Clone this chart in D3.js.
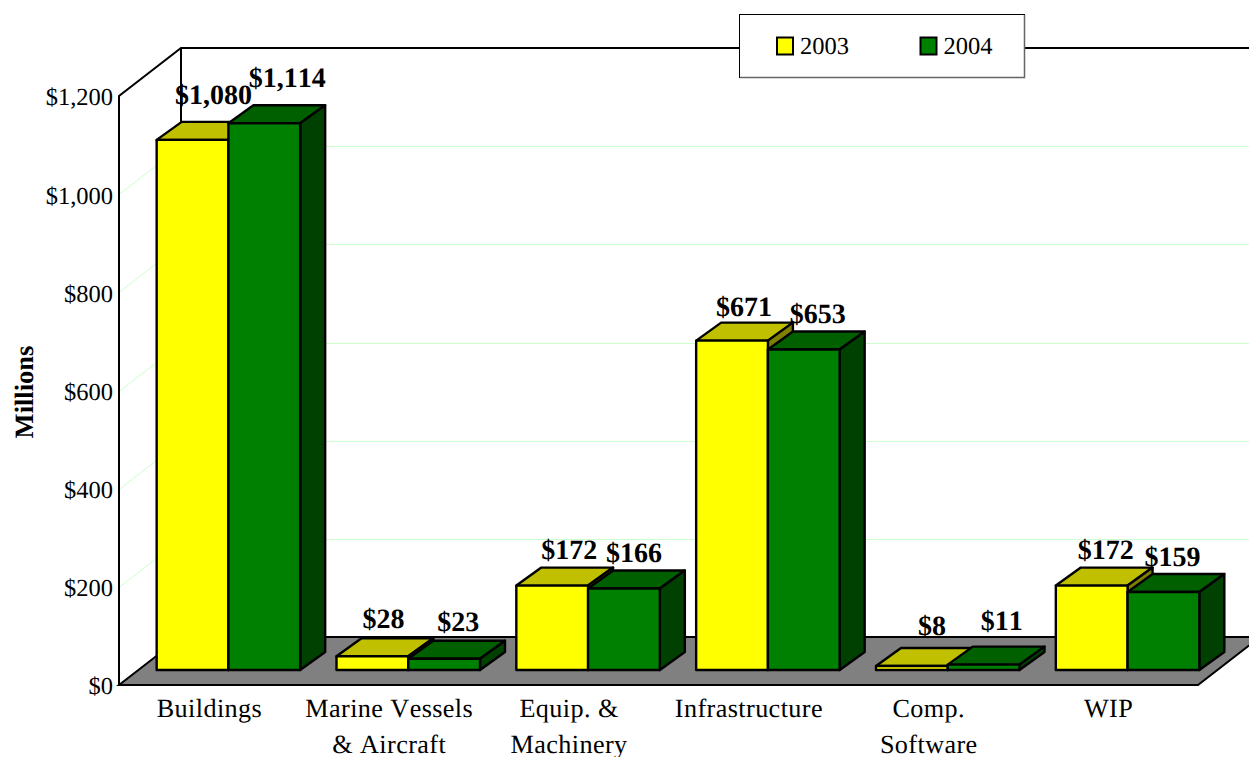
<!DOCTYPE html>
<html>
<head>
<meta charset="utf-8">
<script src="https://cdn.jsdelivr.net/npm/d3@7/dist/d3.min.js"></script>
<style>
  html, body { margin: 0; padding: 0; background: #fff; overflow: hidden; }
  svg { display: block; }
  text { font-family: "Liberation Serif", serif; fill: #000; font-kerning: none; text-rendering: geometricPrecision; }
</style>
</head>
<body>
<svg id="chart" width="1249" height="757"></svg>
<script>
// Net book value by asset class, in millions of dollars
const categories = ["Buildings", "Marine Vessels\n& Aircraft", "Equip. &\nMachinery", "Infrastructure", "Comp.\nSoftware", "WIP"];
const years = ["2003", "2004"];
const values2003 = [1080, 28, 172, 671, 8, 172];
const values2004 = [1114, 23, 166, 653, 11, 159];
const yTicks = [0, 200, 400, 600, 800, 1000, 1200];

// Hand placement of the value labels so neighbours do not collide: [dx, dy]
const labelNudge2003 = [[21, -18], [11, -10], [17, -9], [12, -7], [20, -13], [14, -9]];
const labelNudge2004 = [[23, -18], [14, -10], [10, -9], [14, -8], [18, -17], [9, -8]];

const svg = d3.select("#chart");

// Oblique projection: the floor recedes from the front wall to the back wall
const frontLeft = 119, frontRight = 1198, frontBase = 685, frontTop = 96;
const depthX = 62, depthY = -48;       // full depth of the plot box
const barDepthX = 25, barDepthY = -18; // depth of a single bar
const barInsetX = 19.5, barInsetY = -15; // bars stand this far back from the front edge

const y = d3.scaleLinear().domain([0, 1200]).range([frontBase, frontTop]);
const x = d3.scaleBand().domain(categories).range([frontLeft, frontRight]);
const inner = d3.scaleBand().domain(years).range([0, 143.5]);

const colours = {
  "2003": { front: "#ffff00", top: "#c0c000", side: "#808000" },
  "2004": { front: "#008000", top: "#006000", side: "#004000" }
};

const poly = pts => pts.map(p => p.join(",")).join(" ");
const backLeft = frontLeft + depthX;
const pageRight = 1260;

// Gridlines across the side wall and the back wall
const grid = svg.append("g").attr("fill", "none").attr("stroke", "#ccffcc").attr("stroke-width", 1);
yTicks.filter(d => d > 0 && d < 1200).forEach(d => {
  const yFront = Math.round(y(d)) + 0.5;
  grid.append("polyline").attr("points", poly([
    [frontLeft, yFront], [backLeft, yFront + depthY], [pageRight, yFront + depthY]
  ]));
});

// Floor
svg.append("polygon")
  .attr("points", poly([
    [frontLeft, frontBase], [backLeft, frontBase + depthY],
    [frontRight + depthX, frontBase + depthY], [frontRight, frontBase]
  ]))
  .attr("fill", "#808080").attr("stroke", "#000").attr("stroke-width", 2);

// Wall outline
svg.append("polyline")
  .attr("points", poly([
    [frontLeft, frontBase], [frontLeft, frontTop], [backLeft, frontTop + depthY], [pageRight, frontTop + depthY]
  ]))
  .attr("fill", "none").attr("stroke", "#000").attr("stroke-width", 2);
svg.append("line")
  .attr("x1", backLeft).attr("x2", backLeft)
  .attr("y1", frontTop + depthY).attr("y2", frontBase + depthY)
  .attr("stroke", "#000").attr("stroke-width", 2);

// Bars: each year in turn within a category so the later bar overlaps the earlier one
const bars = svg.append("g").attr("stroke", "#000").attr("stroke-width", 2.4).attr("stroke-linejoin", "round");
const labelData = [];
categories.forEach((cat, i) => {
  years.forEach((yr, k) => {
    const v = (k === 0 ? values2003 : values2004)[i];
    const nudge = (k === 0 ? labelNudge2003 : labelNudge2004)[i];
    const w = inner.bandwidth();
    const x0 = x(cat) + x.bandwidth() / 2 - inner.range()[1] / 2 + inner(yr) + barInsetX;
    const x1 = x0 + w;
    const yB = frontBase + barInsetY;
    const yT = y(v) + barInsetY;
    const c = colours[yr];
    bars.append("polygon").attr("fill", c.top).attr("points", poly([
      [x0, yT], [x0 + barDepthX, yT + barDepthY], [x1 + barDepthX, yT + barDepthY], [x1, yT]
    ]));
    bars.append("polygon").attr("fill", c.side).attr("points", poly([
      [x1, yT], [x1 + barDepthX, yT + barDepthY], [x1 + barDepthX, yB + barDepthY], [x1, yB]
    ]));
    bars.append("rect").attr("x", x0).attr("y", yT).attr("width", w).attr("height", yB - yT).attr("fill", c.front);
    labelData.push({
      v,
      lx: (x0 + x1) / 2 + nudge[0],
      ly: yT + barDepthY + nudge[1]
    });
  });
});

// Value labels
const dollars = d3.format("$,");
svg.append("g").selectAll("text").data(labelData).join("text")
  .attr("x", d => d.lx).attr("y", d => d.ly)
  .attr("text-anchor", "middle")
  .attr("font-weight", "bold").attr("font-size", 28)
  .text(d => dollars(d.v));

// Value axis
const axis = svg.append("g")
  .attr("transform", `translate(${frontLeft},1)`)
  .call(d3.axisLeft(y).tickValues(yTicks).tickFormat(dollars).tickSize(0).tickPadding(6));
axis.select(".domain").remove();
axis.selectAll("text")
  .style("font-family", '"Liberation Serif", serif')
  .attr("font-size", 24.5);

// Category labels, one or two lines
const catLabels = svg.append("g").attr("text-anchor", "middle").attr("font-size", 26.2).attr("letter-spacing", 0.4);
categories.forEach(cat => {
  cat.split("\n").forEach((line, j) => {
    catLabels.append("text")
      .attr("x", x(cat) + x.bandwidth() / 2 + 0.5)
      .attr("y", 717 + j * 36)
      .text(line);
  });
});

// Value axis title
svg.append("text")
  .attr("transform", "translate(33,392) rotate(-90)")
  .attr("text-anchor", "middle")
  .attr("font-weight", "bold").attr("font-size", 26.5)
  .text("Millions");

// Legend
const legend = svg.append("g");
legend.append("rect")
  .attr("x", 739.5).attr("y", 14.5).attr("width", 285).attr("height", 63)
  .attr("fill", "#fff").attr("stroke", "#000").attr("stroke-width", 1);
legend.append("polyline")
  .attr("points", poly([[1024.5, 15], [1024.5, 77.5], [740, 77.5]]))
  .attr("fill", "none").attr("stroke", "#666").attr("stroke-width", 1.5);
years.forEach((yr, k) => {
  const lx = 777 + k * 143.5;
  legend.append("rect")
    .attr("x", lx).attr("y", 37.5).attr("width", 16).attr("height", 17)
    .attr("fill", colours[yr].front).attr("stroke", "#000").attr("stroke-width", 2);
  legend.append("text")
    .attr("x", lx + 23).attr("y", 54)
    .attr("font-size", 24.5)
    .text(yr);
});
</script>
</body>
</html>
